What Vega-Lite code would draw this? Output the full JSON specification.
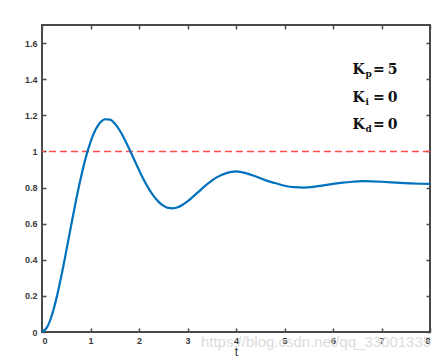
{
  "$schema": "https://vega.github.io/schema/vega-lite/v6.json",
  "width": 388,
  "height": 307,
  "autosize": "none",
  "padding": {"left": 42, "top": 25, "right": 18, "bottom": 28},
  "background": "white",
  "config": {
    "view": {"stroke": "#4a4a4a", "strokeWidth": 2},
    "axis": {
      "grid": false,
      "domain": false,
      "ticks": true,
      "tickColor": "#4a4a4a",
      "tickWidth": 1.5,
      "labelFont": "Liberation Sans",
      "labelFontSize": 9,
      "labelFontWeight": "bold",
      "labelColor": "#3a3a3a",
      "titleFont": "Liberation Sans",
      "titleFontWeight": "normal",
      "titleColor": "#333333"
    }
  },
  "datasets": {
    "resp": [
      {"t": 0, "y": 0}, {"t": 0.1, "y": 0.024}, {"t": 0.2, "y": 0.09}, {"t": 0.3, "y": 0.189},
      {"t": 0.4, "y": 0.311}, {"t": 0.5, "y": 0.448}, {"t": 0.6, "y": 0.589}, {"t": 0.7, "y": 0.727},
      {"t": 0.8, "y": 0.853}, {"t": 0.9, "y": 0.963}, {"t": 1.0, "y": 1.052}, {"t": 1.1, "y": 1.118},
      {"t": 1.2, "y": 1.16}, {"t": 1.3, "y": 1.178}, {"t": 1.4, "y": 1.176}, {"t": 1.5, "y": 1.154},
      {"t": 1.6, "y": 1.117}, {"t": 1.7, "y": 1.069}, {"t": 1.8, "y": 1.013}, {"t": 1.9, "y": 0.955},
      {"t": 2.0, "y": 0.897}, {"t": 2.1, "y": 0.842}, {"t": 2.2, "y": 0.794}, {"t": 2.3, "y": 0.754},
      {"t": 2.4, "y": 0.722}, {"t": 2.5, "y": 0.7}, {"t": 2.6, "y": 0.687}, {"t": 2.7, "y": 0.685},
      {"t": 2.8, "y": 0.691}, {"t": 2.9, "y": 0.705}, {"t": 3.0, "y": 0.723}, {"t": 3.2, "y": 0.77},
      {"t": 3.4, "y": 0.817}, {"t": 3.6, "y": 0.856}, {"t": 3.8, "y": 0.88}, {"t": 4.0, "y": 0.889},
      {"t": 4.2, "y": 0.88}, {"t": 4.4, "y": 0.862}, {"t": 4.6, "y": 0.841}, {"t": 4.8, "y": 0.825},
      {"t": 5.0, "y": 0.81}, {"t": 5.2, "y": 0.802}, {"t": 5.4, "y": 0.8}, {"t": 5.6, "y": 0.804},
      {"t": 5.8, "y": 0.812}, {"t": 6.0, "y": 0.82}, {"t": 6.2, "y": 0.827}, {"t": 6.4, "y": 0.832},
      {"t": 6.6, "y": 0.835}, {"t": 6.8, "y": 0.834}, {"t": 7.0, "y": 0.832}, {"t": 7.2, "y": 0.829},
      {"t": 7.4, "y": 0.826}, {"t": 7.6, "y": 0.823}, {"t": 7.8, "y": 0.821}, {"t": 8.0, "y": 0.82}
    ],
    "ref": [{"level": 1}],
    "gains": [
      {"t": 6.4, "y": 1.451, "main": "K", "sub": "p", "rest": "=\u20095"},
      {"t": 6.4, "y": 1.296, "main": "K", "sub": "i", "rest": "=\u20090"},
      {"t": 6.4, "y": 1.146, "main": "K", "sub": "d", "rest": "=\u20090"}
    ],
    "wm": [{"t": 5.65, "y": -0.055, "label": "https://blog.csdn.net/qq_33001335"}]
  },
  "resolve": {"axis": {"x": "independent", "y": "independent"}},
  "layer": [
    {
      "data": {"name": "ref"},
      "mark": {"type": "rule", "color": "#ff4a4a", "stroke": "#ff4a4a", "strokeDash": [7, 4], "strokeWidth": 1.5},
      "encoding": {
        "y": {"field": "level", "type": "quantitative", "scale": {"domain": [0, 1.7], "nice": false}, "axis": null}
      }
    },
    {
      "data": {"name": "resp"},
      "mark": {"type": "line", "color": "#0072BD", "strokeWidth": 2.2, "interpolate": "monotone"},
      "encoding": {
        "x": {"field": "t", "type": "quantitative", "scale": {"domain": [0, 8], "nice": false},
              "axis": {"orient": "bottom", "values": [0, 1, 2, 3, 4, 5, 6, 7, 8], "format": "~g", "tickSize": -4, "labelPadding": 8, "title": "t", "titleFontSize": 12, "titlePadding": 1}},
        "y": {"field": "y", "type": "quantitative", "scale": {"domain": [0, 1.7], "nice": false},
              "axis": {"orient": "left", "values": [0, 0.2, 0.4, 0.6, 0.8, 1, 1.2, 1.4, 1.6], "format": "~g", "tickSize": -4, "labelPadding": 9, "title": null}}
      }
    },
    {
      "data": {"name": "gains"},
      "mark": {"type": "text", "align": "left", "baseline": "middle", "font": "DejaVu Serif", "fontWeight": "bold", "fontSize": 14, "color": "#111111"},
      "encoding": {
        "x": {"field": "t", "type": "quantitative",
              "axis": {"orient": "top", "values": [0, 1, 2, 3, 4, 5, 6, 7, 8], "tickSize": -4, "labels": false, "title": null}},
        "y": {"field": "y", "type": "quantitative",
              "axis": {"orient": "right", "values": [0, 0.2, 0.4, 0.6, 0.8, 1, 1.2, 1.4, 1.6], "tickSize": -4, "labels": false, "title": null}},
        "text": {"field": "main"}
      }
    },
    {
      "data": {"name": "gains"},
      "mark": {"type": "text", "align": "left", "baseline": "middle", "font": "DejaVu Serif", "fontWeight": "bold", "fontSize": 9, "color": "#111111", "dx": 13, "dy": 4},
      "encoding": {
        "x": {"field": "t", "type": "quantitative", "axis": null},
        "y": {"field": "y", "type": "quantitative", "axis": null},
        "text": {"field": "sub"}
      }
    },
    {
      "data": {"name": "gains"},
      "mark": {"type": "text", "align": "right", "baseline": "middle", "font": "DejaVu Serif", "fontWeight": "bold", "fontSize": 14, "color": "#111111", "dx": 45},
      "encoding": {
        "x": {"field": "t", "type": "quantitative", "axis": null},
        "y": {"field": "y", "type": "quantitative", "axis": null},
        "text": {"field": "rest"}
      }
    },
    {
      "data": {"name": "wm"},
      "mark": {"type": "text", "align": "center", "baseline": "middle", "font": "Liberation Sans", "fontSize": 15, "color": "#d4d4d4", "opacity": 0.8},
      "encoding": {
        "x": {"field": "t", "type": "quantitative", "axis": null},
        "y": {"field": "y", "type": "quantitative", "axis": null},
        "text": {"field": "label"}
      }
    }
  ]
}
